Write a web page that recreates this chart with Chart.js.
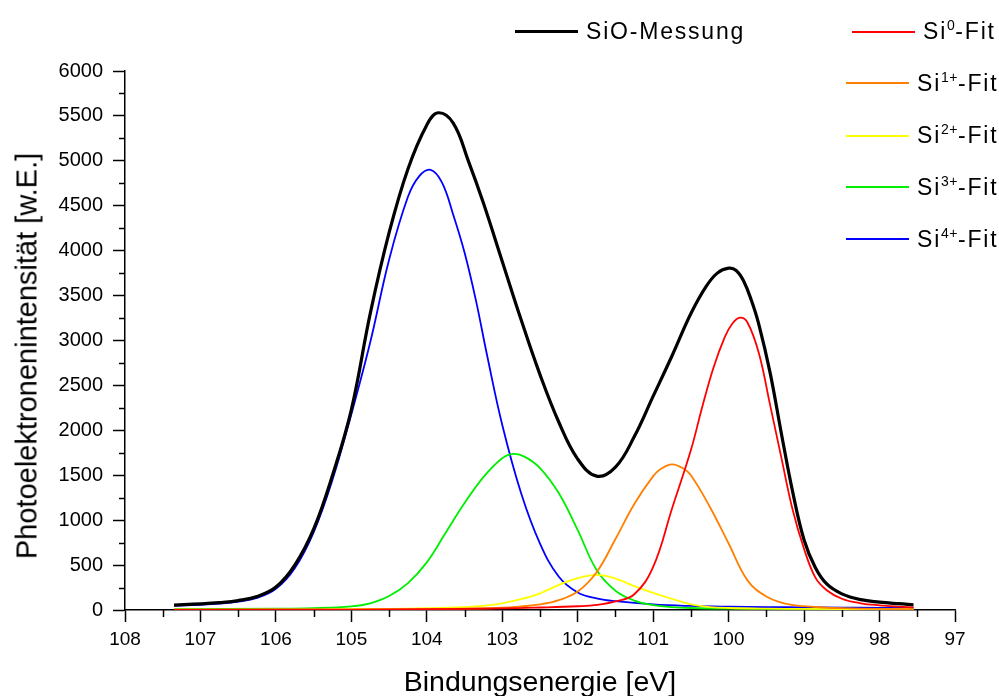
<!DOCTYPE html>
<html>
<head>
<meta charset="utf-8">
<script src="https://cdn.jsdelivr.net/npm/chart.js@4.4.0/dist/chart.umd.min.js"></script>
<style>
  html, body { margin: 0; padding: 0; background: #fff; }
  #wrap { position: relative; width: 999px; height: 696px; }
  #wrap, #wrap * { font-family: "Liberation Sans", Arial, sans-serif; color: #000; }
  .item { position: absolute; height: 30px; display: flex; align-items: center; white-space: nowrap; font-size: 23px; letter-spacing: 1.8px; }
  .item .ln { display: inline-block; width: 63px; margin-right: 8px; }
  .item sup { font-size: 14px; position: relative; top: -9px; vertical-align: baseline; line-height: 0; letter-spacing: 0.5px; }
  #ytitle { position: absolute; left: 27px; top: 356px; font-size: 29px; white-space: nowrap; transform: translate(-50%, -50%) rotate(-90deg); }
</style>
</head>
<body>
<div id="wrap">
  <canvas id="myChart" width="999" height="696"></canvas>
  <div id="ytitle">Photoelektronenintensität [w.E.]</div>
  <div id="legend"></div>
</div>
<script>
// SiO-Messung (measured spectrum)
const measX = [107.35, 107.0, 106.75, 106.5, 106.25, 106.0, 105.75, 105.5, 105.25, 105.0, 104.75, 104.5, 104.25, 104.0, 103.85, 103.65, 103.45, 103.25, 103.0, 102.75, 102.5, 102.25, 102.0, 101.75, 101.5, 101.25, 101.0, 100.75, 100.5, 100.3, 100.15, 100.0, 99.9, 99.8, 99.7, 99.6, 99.45, 99.3, 99.15, 99.0, 98.85, 98.7, 98.5, 98.25, 98.0, 97.75, 97.55];
const measY = [55, 68, 82, 105, 150, 255, 500, 900, 1500, 2230, 3300, 4200, 4910, 5400, 5535, 5420, 5000, 4530, 3880, 3230, 2620, 2090, 1680, 1490, 1590, 1930, 2380, 2830, 3300, 3600, 3750, 3805, 3780, 3660, 3450, 3180, 2640, 1960, 1310, 780, 470, 290, 180, 115, 88, 70, 58];

// Si0-Fit
const si0X = [107.35, 105.0, 104.0, 103.0, 102.5, 102.0, 101.75, 101.5, 101.25, 101.0, 100.75, 100.5, 100.35, 100.2, 100.05, 99.95, 99.85, 99.75, 99.6, 99.45, 99.3, 99.15, 99.0, 98.85, 98.7, 98.5, 98.25, 98.0, 97.75, 97.55];
const si0Y = [2, 5, 10, 18, 28, 42, 56, 95, 175, 480, 1130, 1780, 2260, 2700, 3040, 3190, 3255, 3200, 2860, 2280, 1690, 1110, 680, 360, 220, 125, 75, 52, 38, 30];

// Si1+-Fit
const si1X = [107.35, 105.0, 104.0, 103.5, 103.0, 102.75, 102.5, 102.25, 102.0, 101.75, 101.5, 101.25, 101.0, 100.9, 100.75, 100.6, 100.5, 100.25, 100.0, 99.75, 99.5, 99.25, 99.0, 98.75, 98.5, 98.0, 97.55];
const si1Y = [3, 5, 10, 15, 25, 40, 62, 110, 205, 420, 790, 1180, 1490, 1570, 1622, 1575, 1500, 1150, 740, 330, 150, 72, 42, 28, 20, 12, 10];

// Si2+-Fit
const si2X = [107.35, 106.0, 105.0, 104.5, 104.0, 103.5, 103.25, 103.0, 102.75, 102.5, 102.25, 102.0, 101.75, 101.5, 101.25, 101.0, 100.75, 100.5, 100.25, 100.0, 99.5, 99.0, 98.0, 97.55];
const si2Y = [5, 6, 10, 13, 20, 32, 45, 75, 120, 185, 280, 355, 390, 350, 265, 190, 125, 62, 33, 22, 15, 12, 10, 10];

// Si3+-Fit
const si3X = [107.35, 106.0, 105.5, 105.0, 104.75, 104.5, 104.25, 104.0, 103.75, 103.5, 103.25, 103.0, 102.85, 102.7, 102.5, 102.25, 102.0, 101.75, 101.5, 101.25, 101.0, 100.75, 100.5, 100.0, 99.0, 98.0, 97.55];
const si3Y = [10, 14, 20, 40, 75, 155, 300, 530, 860, 1190, 1480, 1690, 1737, 1705, 1580, 1300, 890, 445, 215, 105, 55, 32, 22, 15, 12, 10, 10];

// Si4+-Fit
const si4X = [107.35, 107.0, 106.75, 106.5, 106.25, 106.0, 105.75, 105.5, 105.25, 105.0, 104.75, 104.5, 104.25, 104.1, 103.95, 103.8, 103.65, 103.5, 103.35, 103.2, 103.0, 102.75, 102.5, 102.25, 102.0, 101.75, 101.5, 101.0, 100.5, 100.0, 99.5, 99.0, 98.5, 98.0, 97.55];
const si4Y = [48, 58, 70, 92, 135, 235, 465, 865, 1450, 2180, 2980, 3900, 4600, 4830, 4900, 4760, 4400, 3980, 3450, 2830, 2060, 1300, 740, 370, 195, 130, 98, 62, 45, 37, 33, 30, 27, 24, 22];

const fitCharges = ['0', '1+', '2+', '3+', '4+'];
const xTicksMin = 97, xTicksMax = 108;
const yTicksMin = 0, yTicksMax = 6000;

function pts(xs, ys){
    return xs.map(function(x, i){ return {x: x, y: ys[i]}; });
}

const series = [
    {label: 'SiO-Messung', data: pts(measX, measY), color: '#000000', width: 3.2},
    {label: 'Si0-Fit', data: pts(si0X, si0Y), color: '#ff0000', width: 1.8},
    {label: 'Si1+-Fit', data: pts(si1X, si1Y), color: '#ff8000', width: 1.8},
    {label: 'Si2+-Fit', data: pts(si2X, si2Y), color: '#ffff00', width: 1.8},
    {label: 'Si3+-Fit', data: pts(si3X, si3Y), color: '#00ee00', width: 1.8},
    {label: 'Si4+-Fit', data: pts(si4X, si4Y), color: '#0000ff', width: 1.8}
];

// legend (html, because of the superscripts)
const legendPos = [[515, 31.7], [852, 31.7], [846, 83.3], [846, 135.7], [846, 187.3], [846, 239]];
let legendHtml = '';
series.forEach(function(s, i){
    let text = i === 0 ? s.label : 'Si<sup>' + fitCharges[i - 1] + '</sup>-Fit';
    legendHtml += '<div class="item" style="left:' + legendPos[i][0] + 'px;top:' + (legendPos[i][1] - 15) + 'px">' +
        '<span class="ln" style="height:' + (i === 0 ? 3 : 2) + 'px;background:' + s.color + '"></span>' +
        '<span>' + text + '</span></div>';
});
document.getElementById('legend').innerHTML = legendHtml;

// minor ticks between the labelled ones
const minorTicks = {
    id: 'minorTicks',
    afterDraw: function(chart){
        const ctx = chart.ctx, area = chart.chartArea;
        const x = chart.scales.x, y = chart.scales.y;
        ctx.save();
        ctx.strokeStyle = '#000';
        ctx.lineWidth = 1.5;
        ctx.beginPath();
        for(let v = xTicksMin + 0.5; v < xTicksMax; v += 1){
            const px = Math.round(x.getPixelForValue(v)) + 0.5;
            ctx.moveTo(px, area.bottom);
            ctx.lineTo(px, area.bottom + 7);
        }
        for(let v = yTicksMin + 250; v < yTicksMax; v += 500){
            const py = Math.round(y.getPixelForValue(v)) + 0.5;
            ctx.moveTo(area.left, py);
            ctx.lineTo(area.left - 6, py);
        }
        ctx.stroke();
        ctx.restore();
    }
};

const ctx = document.getElementById('myChart');
new Chart(ctx, {
    type: 'line',
    data: {
        datasets: series.map(function(s){
            return {
                label: s.label,
                data: s.data,
                borderColor: s.color,
                borderWidth: s.width,
                pointRadius: 0,
                fill: false,
                tension: 0.4
            };
        })
    },
    options: {
        responsive: false,
        animation: false,
        layout: {padding: {top: 71, right: 44, left: 0, bottom: 0}},
        plugins: {
            legend: {display: false},
            tooltip: {enabled: false}
        },
        scales: {
            x: {
                type: 'linear',
                reverse: true,
                min: xTicksMin,
                max: xTicksMax,
                ticks: {stepSize: 1, color: '#000', padding: 6, font: {family: 'Liberation Sans', size: 19}},
                grid: {drawOnChartArea: false, drawTicks: true, tickLength: 12, tickColor: '#000', tickWidth: 1.5},
                border: {display: true, color: '#000', width: 1.5},
                title: {
                    display: true,
                    text: 'Bindungsenergie [eV]',
                    color: '#000',
                    padding: 0,
                    font: {family: 'Liberation Sans', size: 28.5, lineHeight: 0.93}
                },
                afterFit: function(scale){ scale.height = 86; }
            },
            y: {
                min: yTicksMin,
                max: yTicksMax,
                ticks: {
                    stepSize: 500, color: '#000', padding: 10,
                    font: {family: 'Liberation Sans', size: 20},
                    callback: function(value){ return String(value); }
                },
                grid: {drawOnChartArea: false, drawTicks: true, tickLength: 12, tickColor: '#000', tickWidth: 1.5},
                border: {display: true, color: '#000', width: 1.5},
                afterFit: function(scale){ scale.width = 125; }
            }
        }
    },
    plugins: [minorTicks]
});
</script>
</body>
</html>
